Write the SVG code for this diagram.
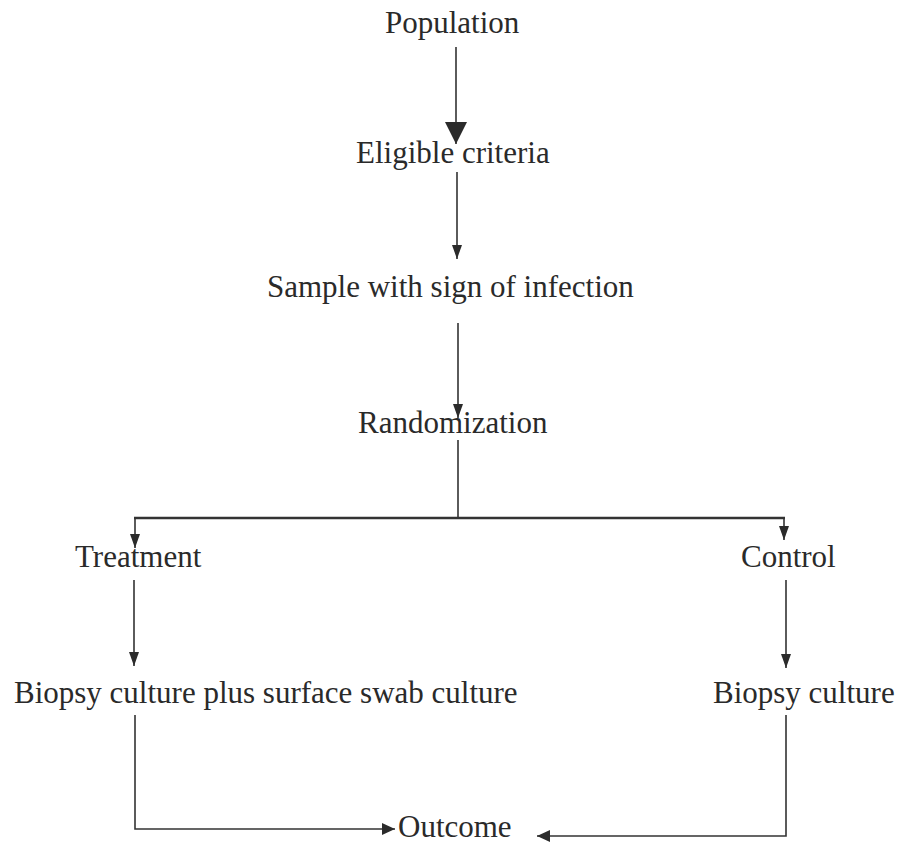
<svg xmlns="http://www.w3.org/2000/svg" width="904" height="845" viewBox="0 0 904 845">
<defs>
<marker id="big" markerUnits="userSpaceOnUse" markerWidth="22" markerHeight="24" viewBox="0 0 22 24" refX="22" refY="11" orient="auto"><path d="M0,0 L22,11 L0,22 Z" fill="#2b2b2b"/></marker>
<marker id="sm" markerUnits="userSpaceOnUse" markerWidth="14" markerHeight="12" viewBox="0 0 14 12" refX="14" refY="5" orient="auto"><path d="M0,0 L14,5 L0,10 Z" fill="#2b2b2b"/></marker>
<marker id="md" markerUnits="userSpaceOnUse" markerWidth="14" markerHeight="14" viewBox="0 0 14 14" refX="13" refY="6" orient="auto"><path d="M0,0 L13,6 L0,12 Z" fill="#2b2b2b"/></marker>
</defs>
<style>
text{font-family:"Liberation Serif","Times New Roman",serif;font-size:31px;fill:#2a2a2a}
.c{fill:none;stroke:#333;stroke-width:1.6}
.h{fill:none;stroke:#333;stroke-width:2.6}
</style>
<rect width="904" height="845" fill="#fff"/>
<g id="connectors">
<line class="c" x1="456" y1="47" x2="456" y2="144" marker-end="url(#big)"/>
<line class="c" x1="457" y1="172" x2="457" y2="259" marker-end="url(#sm)"/>
<line class="c" x1="458" y1="323" x2="458" y2="418" marker-end="url(#sm)"/>
<line class="c" x1="458" y1="440" x2="458" y2="518"/>
<line class="h" x1="134" y1="518" x2="785" y2="518"/>
<line class="c" x1="135" y1="518" x2="135" y2="548" marker-end="url(#sm)"/>
<line class="c" x1="784" y1="518" x2="784" y2="540" marker-end="url(#sm)"/>
<line class="c" x1="134" y1="580" x2="134" y2="666" marker-end="url(#sm)"/>
<line class="c" x1="786" y1="580" x2="786" y2="668" marker-end="url(#sm)"/>
<polyline class="c" points="135,715 135,829 395,829" marker-end="url(#md)"/>
<polyline class="c" points="786,715 786,836 537,836" marker-end="url(#md)"/>
</g>
<g id="population"><text x="385" y="33">Population</text></g>
<g id="eligible"><text x="356" y="163">Eligible criteria</text></g>
<g id="sample"><text x="267" y="297">Sample with sign of infection</text></g>
<g id="randomization"><text x="358" y="433">Randomization</text></g>
<g id="treatment"><text x="75" y="567">Treatment</text></g>
<g id="control"><text x="741" y="567">Control</text></g>
<g id="biopsy-plus"><text x="14" y="703">Biopsy culture plus surface swab culture</text></g>
<g id="biopsy"><text x="713" y="703">Biopsy culture</text></g>
<g id="outcome"><text x="398" y="837">Outcome</text></g>
</svg>
